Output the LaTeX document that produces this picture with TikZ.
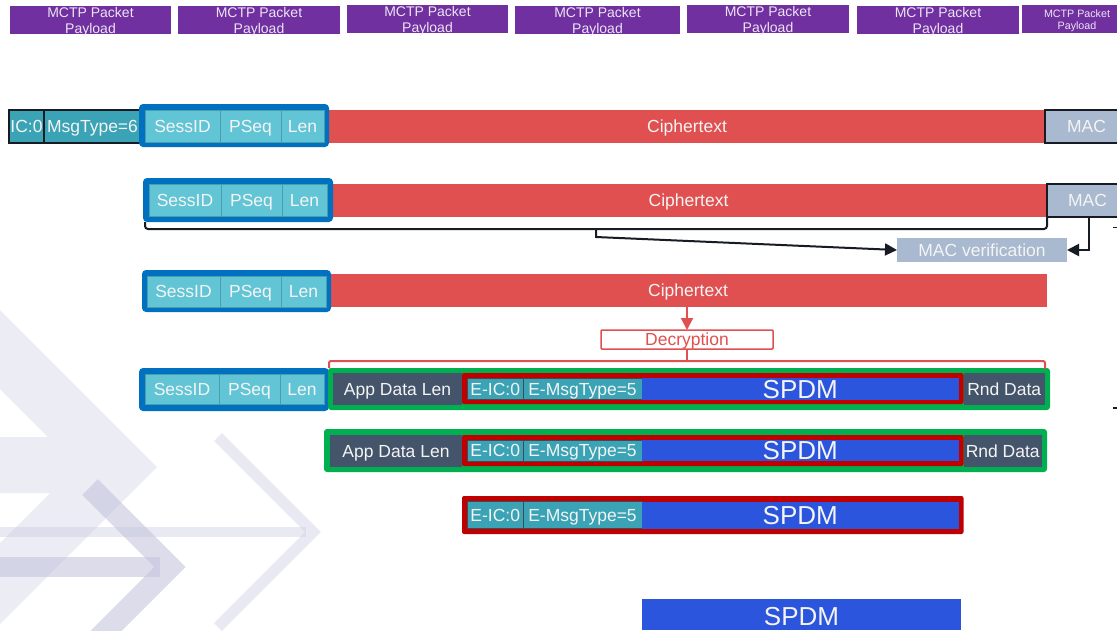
\documentclass[tikz,border=0pt]{standalone}
\usepackage{fontspec}
\setmainfont{Liberation Sans}
\usetikzlibrary{arrows.meta}
\definecolor{mpurple}{HTML}{7030A0}
\definecolor{mred}{HTML}{E05050}
\definecolor{mblue}{HTML}{0070C0}
\definecolor{lteal}{HTML}{62C5D6}
\definecolor{celledge}{HTML}{4A9DAB}
\definecolor{dteal}{HTML}{3AA3B5}
\definecolor{spdmblue}{HTML}{2A55DC}
\definecolor{slate}{HTML}{44546A}
\definecolor{mgreen}{HTML}{00B050}
\definecolor{dred}{HTML}{C00000}
\definecolor{macgray}{HTML}{A9B9CF}
\definecolor{ink}{HTML}{171B24}
\definecolor{lav}{HTML}{C4C4DE}
\definecolor{txt}{HTML}{F4F4F4}
\definecolor{ptxt}{HTML}{EDE4F4}
\newcommand\fsn{\fontsize{17.5}{21}\selectfont}
\newcommand\fsb{\fontsize{26}{30}\selectfont}
\newcommand\fsm{\fontsize{14}{15.5}\selectfont}
\newcommand\fss{\fontsize{10.7}{12}\selectfont}
\newcommand\bx[7]{\node[#2,minimum width={#5-#3},minimum height={#6-#4}] (#1) at ({(#3+#5)/2},{(#4+#6)/2}) {#7};}
\newcommand\mctptext{\begin{tabular}[b]{@{}c@{}}MCTP Packet\\Payload\end{tabular}}
\begin{document}
\begin{tikzpicture}[x=1pt,y=-1pt,
  fld/.style={inner sep=0pt, outer sep=0pt, font=\fsn, text=txt, text height=12.5pt, text depth=0pt},
  cipher/.style={fld, fill=mred},
  lcell/.style={fld, fill=lteal, draw=celledge, line width=0.9pt},
  dcell/.style={fld, fill=dteal, draw=ink!80, line width=0.7pt},
  hdcell/.style={fld, fill=dteal, draw=ink, line width=1.8pt},
  spdm/.style={fld, fill=spdmblue, font=\fsb, text height=18.6pt},
  slatecell/.style={fld, fill=slate},
  macbox/.style={fld, fill=macgray, draw=ink, line width=1.8pt},
  macvbox/.style={fld, fill=macgray},
  bluebox/.style={inner sep=0pt, outer sep=0pt, fill=mblue, rounded corners=4pt},
  greenbox/.style={inner sep=0pt, outer sep=0pt, fill=mgreen, rounded corners=3pt},
  redbox/.style={inner sep=0pt, outer sep=0pt, fill=dred, rounded corners=2pt},
  decbox/.style={fld, draw=mred, fill=white, line width=1.5pt, text=mred, rounded corners=1pt},
  mctp/.style={inner sep=0pt, outer sep=0pt, fill=mpurple, text=ptxt, font=\fsm, text height=26pt, text depth=0pt},
  mctps/.style={mctp, font=\fss, text height=20pt},
  blk/.style={draw=ink, line width=2pt},
  arr/.style={-{Triangle[length=12pt,width=12pt]}},
  rline/.style={draw=mred, line width=2pt},
]
\path[use as bounding box] (0,0) rectangle (1117,630);
\clip (0,0) rectangle (1117,630);

% watermark
\fill[lav, opacity=0.32] (0,310) -- (157,467) -- (0,624) -- (0,543) -- (50,493) -- (0,493) -- (0,437) -- (48,437) -- (0,389) -- cycle;
\draw[lav, opacity=0.37, line width=11pt] (218,437) -- (313,532) -- (218,627);
\draw[lav, opacity=0.37, line width=10pt] (0,532) -- (306,532);
\draw[lav, opacity=0.6, line width=22pt] (90,487) -- (170,567) -- (90,647);
\draw[lav, opacity=0.6, line width=20pt] (0,567) -- (160,567);

% MCTP packet payloads
\bx{m1}{mctp}{10}{6}{171}{34}{\mctptext}
\bx{m2}{mctp}{178}{6}{340}{34}{\mctptext}
\bx{m3}{mctp}{347}{5}{508}{33}{\mctptext}
\bx{m4}{mctp}{515}{6}{680}{34}{\mctptext}
\bx{m5}{mctp}{687}{5}{849}{33}{\mctptext}
\bx{m6}{mctp}{857}{6}{1019}{34}{\mctptext}
\bx{m7}{mctps}{1022}{5}{1132}{33}{\mctptext}

% row 1
\bx{ic1}{hdcell}{9}{110}{44}{143}{IC:0}
\bx{mt1}{hdcell}{44}{110}{150}{143}{\hbox to 106pt{\hspace{3pt}MsgType=6\hss}}
\bx{ct1}{cipher}{329}{110}{1045}{143}{Ciphertext}
\bx{mac1}{macbox}{1045}{110}{1128}{143}{MAC}
\bx{bb1}{bluebox}{139}{104}{329}{147}{}
\bx{s1}{lcell}{145}{110}{220}{142}{SessID}
\bx{p1}{lcell}{220}{110}{281}{142}{PSeq}
\bx{l1}{lcell}{281}{110}{324}{142}{Len}

% row 2
\bx{ct2}{cipher}{330}{184}{1047}{217}{Ciphertext}
\bx{mac2}{macbox}{1047}{184}{1128}{217}{MAC}
\bx{bb2}{bluebox}{143}{178}{333}{222}{}
\bx{s2}{lcell}{149}{184}{221}{216}{SessID}
\bx{p2}{lcell}{221}{184}{282}{216}{PSeq}
\bx{l2}{lcell}{282}{184}{327}{216}{Len}
\bx{macv}{macvbox}{897}{238}{1067}{262}{MAC verification}

\coordinate (kR) at (1047,229);
\coordinate (kM) at (596,229);
\coordinate (kN) at (596,237);
\coordinate (kP) at (1089,250);
\draw[blk, rounded corners=3pt] ([xshift=2pt]bb2.south west) |- (kR) -- (mac2.south west);
\draw[blk, arr] (kM) -- (kN) -- (macv.west);
\draw[blk, arr] (mac2.south -| kP) |- (macv.east);
\draw[ink, line width=1.5pt] (1113,227.5) -- (1117,227.5);
\draw[ink, line width=1.5pt] (1113,408) -- (1117,408);

% row 3
\bx{ct3}{cipher}{329}{274}{1047}{307}{Ciphertext}
\bx{bb3}{bluebox}{142}{270}{331}{312}{}
\bx{s3}{lcell}{147}{276}{220}{307}{SessID}
\bx{p3}{lcell}{220}{276}{281}{307}{PSeq}
\bx{l3}{lcell}{281}{276}{326}{307}{Len}
\bx{dec}{decbox}{601}{330}{773}{349}{Decryption}

% row 4
\bx{bb4}{bluebox}{139}{368}{329}{411}{}
\bx{s4}{lcell}{145}{374}{219}{404}{SessID}
\bx{p4}{lcell}{219}{374}{280}{404}{PSeq}
\bx{l4}{lcell}{280}{374}{324}{404}{Len}
\bx{gr4}{greenbox}{328}{368}{1050}{410}{}
\bx{ad4}{slatecell}{333}{373}{462}{405}{App Data Len}
\bx{rd4}{slatecell}{963.5}{373}{1045}{405}{Rnd Data}
\bx{rb4}{redbox}{462}{373}{963.5}{404}{}
\bx{ei4}{dcell}{467.5}{378}{523}{399.5}{E-IC:0}
\bx{em4}{dcell}{523}{378}{642}{399.5}{E-MsgType=5}
\bx{sp4}{spdm}{642}{378}{958.5}{399.5}{SPDM}

\coordinate (rL) at (329,361);
\coordinate (rR) at (1045,361);
\coordinate (rR2) at (1045,369);
\draw[rline, rounded corners=2pt] ([xshift=1pt]gr4.north west) -- (rL) -- (rR) -- (rR2);
\draw[rline] (dec.south) -- (dec.south |- rL);
\draw[rline, arr] (dec.north |- ct3.south) -- (dec.north);

% row 5
\bx{gr5}{greenbox}{324}{429}{1047}{472}{}
\bx{ad5}{slatecell}{330}{435}{462}{467}{App Data Len}
\bx{rd5}{slatecell}{963.5}{435}{1042}{467}{Rnd Data}
\bx{rb5}{redbox}{462}{435}{963.5}{466}{}
\bx{ei5}{dcell}{467.5}{440}{523}{461}{E-IC:0}
\bx{em5}{dcell}{523}{440}{642}{461}{E-MsgType=5}
\bx{sp5}{spdm}{642}{440}{958.5}{461}{SPDM}

% row 6
\bx{rb6}{redbox}{462}{496}{963.5}{534}{}
\bx{ei6}{dcell}{467.5}{501.5}{523}{528.5}{E-IC:0}
\bx{em6}{dcell}{523}{501.5}{642}{528.5}{E-MsgType=5}
\bx{sp6}{spdm}{642}{501.5}{958.5}{528.5}{SPDM}

% row 7
\bx{sp7}{spdm, text height=22pt}{642}{599}{961}{630}{SPDM}
\end{tikzpicture}
\end{document}
